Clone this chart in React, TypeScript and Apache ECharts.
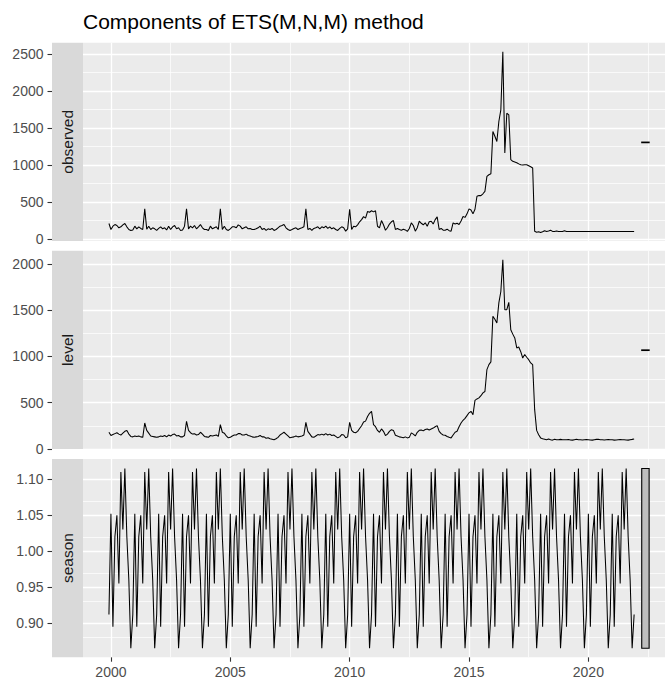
import React, { useEffect, useRef } from "react";
import * as echarts from "echarts";

// ---------- DATA ----------
// Monthly series, first value = Dec 1999, then Jan..Dec for 2000..2021
const startYear = 1999;
const startMonth = 12;
const frequency = 12;

const observed: number[] = [
  207,
  126, 171, 193, 180, 149, 162, 189, 207, 162, 126, 113, 120, // 2000
  171, 135, 162, 140, 125, 405, 130, 171, 126, 149, 135, 113, // 2001
  140, 162, 135, 149, 120, 171, 126, 162, 180, 135, 149, 113, // 2002
  120, 171, 405, 135, 171, 149, 180, 135, 162, 193, 149, 126, // 2003
  126, 113, 171, 135, 149, 162, 126, 405, 126, 171, 126, 113, // 2004
  135, 162, 162, 149, 189, 171, 135, 149, 162, 135, 140, 126, // 2005
  126, 135, 149, 171, 126, 140, 113, 135, 126, 140, 113, 126, // 2006
  149, 171, 180, 193, 149, 126, 113, 126, 140, 149, 126, 140, // 2007
  149, 162, 405, 126, 140, 113, 140, 149, 162, 135, 162, 149, // 2008
  171, 140, 162, 135, 149, 126, 113, 140, 162, 149, 104, 135, // 2009
  400, 126, 171, 162, 189, 230, 260, 300, 280, 370, 360, 380, // 2010
  365, 380, 170, 149, 247, 190, 116, 150, 200, 230, 247, 126, // 2011
  140, 125, 116, 130, 120, 100, 140, 216, 180, 103, 150, 238, // 2012
  210, 190, 216, 170, 230, 238, 200, 260, 297, 126, 140, 116, // 2013
  116, 130, 110, 103, 216, 200, 210, 194, 240, 301, 290, 338, // 2014
  405, 390, 338, 400, 576, 585, 585, 610, 643, 846, 868, 880, // 2015
  1454, 1390, 1319, 1589, 1747, 2535, 1162, 1702, 1680, 1072, 1049, 1040, // 2016
  1031, 1015, 1004, 1000, 1004, 1004, 990, 975, 960, 103, 89, 95, // 2017
  85, 95, 110, 100, 105, 115, 100, 100, 105, 100, 100, 100, // 2018
  110, 100, 100, 100, 100, 100, 100, 100, 100, 100, 100, 100, // 2019
  100, 100, 100, 100, 100, 100, 100, 100, 100, 100, 100, 100, // 2020
  100, 100, 100, 100, 100, 100, 100, 100, 100, 100, 100, 100, // 2021
];

const level: number[] = [
  180,
  145, 155, 165, 175, 160, 150, 170, 190, 200, 160, 135, 130, // 2000
  140, 135, 140, 130, 125, 280, 200, 170, 140, 135, 130, 125, // 2001
  130, 140, 135, 145, 130, 150, 140, 155, 160, 140, 145, 130, // 2002
  130, 145, 298, 200, 175, 160, 165, 150, 155, 180, 160, 135, // 2003
  130, 125, 145, 140, 145, 150, 135, 262, 180, 170, 140, 120, // 2004
  125, 140, 150, 150, 165, 165, 150, 150, 160, 145, 140, 130, // 2005
  125, 130, 135, 145, 130, 130, 115, 120, 110, 105, 100, 110, // 2006
  125, 150, 165, 180, 160, 140, 120, 125, 130, 140, 130, 135, // 2007
  140, 150, 287, 190, 160, 130, 125, 140, 155, 150, 160, 150, // 2008
  165, 150, 160, 145, 150, 135, 120, 130, 155, 150, 120, 130, // 2009
  287, 200, 180, 175, 190, 220, 250, 290, 300, 350, 385, 406, // 2010
  262, 240, 200, 180, 216, 190, 144, 160, 190, 208, 200, 147, // 2011
  140, 130, 125, 120, 130, 119, 125, 173, 160, 140, 180, 201, // 2012
  205, 195, 210, 216, 205, 215, 225, 240, 252, 190, 165, 150, // 2013
  147, 135, 125, 119, 150, 180, 190, 240, 280, 309, 330, 360, // 2014
  390, 406, 370, 525, 540, 551, 575, 605, 620, 857, 910, 940, // 2015
  1432, 1400, 1360, 1577, 1700, 2044, 1504, 1504, 1583, 1288, 1240, 1199, // 2016
  1091, 1100, 1050, 982, 1020, 990, 964, 929, 910, 424, 200, 154, // 2017
  119, 110, 105, 100, 108, 100, 95, 105, 100, 98, 103, 100, // 2018
  98, 100, 102, 97, 95, 100, 105, 100, 98, 96, 100, 102, // 2019
  100, 97, 95, 100, 103, 105, 100, 98, 96, 100, 102, 100, // 2020
  98, 95, 97, 100, 102, 100, 98, 96, 95, 100, 103, 108, // 2021
];

const season: number[] = [
  0.912,
  1.052, 0.895, 1.02, 1.05, 0.955, 1.11, 1.03, 1.115, 1.02, 0.96, 0.865, 0.912, // 2000
  1.052, 0.895, 1.02, 1.05, 0.955, 1.11, 1.03, 1.115, 1.02, 0.96, 0.865, 0.912, // 2001
  1.052, 0.895, 1.02, 1.05, 0.955, 1.11, 1.03, 1.115, 1.02, 0.96, 0.865, 0.912, // 2002
  1.052, 0.895, 1.02, 1.05, 0.955, 1.11, 1.03, 1.115, 1.02, 0.96, 0.865, 0.912, // 2003
  1.052, 0.895, 1.02, 1.05, 0.955, 1.11, 1.03, 1.115, 1.02, 0.96, 0.865, 0.912, // 2004
  1.052, 0.895, 1.02, 1.05, 0.955, 1.11, 1.03, 1.115, 1.02, 0.96, 0.865, 0.912, // 2005
  1.052, 0.895, 1.02, 1.05, 0.955, 1.11, 1.03, 1.115, 1.02, 0.96, 0.865, 0.912, // 2006
  1.052, 0.895, 1.02, 1.05, 0.955, 1.11, 1.03, 1.115, 1.02, 0.96, 0.865, 0.912, // 2007
  1.052, 0.895, 1.02, 1.05, 0.955, 1.11, 1.03, 1.115, 1.02, 0.96, 0.865, 0.912, // 2008
  1.052, 0.895, 1.02, 1.05, 0.955, 1.11, 1.03, 1.115, 1.02, 0.96, 0.865, 0.912, // 2009
  1.052, 0.895, 1.02, 1.05, 0.955, 1.11, 1.03, 1.115, 1.02, 0.96, 0.865, 0.912, // 2010
  1.052, 0.895, 1.02, 1.05, 0.955, 1.11, 1.03, 1.115, 1.02, 0.96, 0.865, 0.912, // 2011
  1.052, 0.895, 1.02, 1.05, 0.955, 1.11, 1.03, 1.115, 1.02, 0.96, 0.865, 0.912, // 2012
  1.052, 0.895, 1.02, 1.05, 0.955, 1.11, 1.03, 1.115, 1.02, 0.96, 0.865, 0.912, // 2013
  1.052, 0.895, 1.02, 1.05, 0.955, 1.11, 1.03, 1.115, 1.02, 0.96, 0.865, 0.912, // 2014
  1.052, 0.895, 1.02, 1.05, 0.955, 1.11, 1.03, 1.115, 1.02, 0.96, 0.865, 0.912, // 2015
  1.052, 0.895, 1.02, 1.05, 0.955, 1.11, 1.03, 1.115, 1.02, 0.96, 0.865, 0.912, // 2016
  1.052, 0.895, 1.02, 1.05, 0.955, 1.11, 1.03, 1.115, 1.02, 0.96, 0.865, 0.912, // 2017
  1.052, 0.895, 1.02, 1.05, 0.955, 1.11, 1.03, 1.115, 1.02, 0.96, 0.865, 0.912, // 2018
  1.052, 0.895, 1.02, 1.05, 0.955, 1.11, 1.03, 1.115, 1.02, 0.96, 0.865, 0.912, // 2019
  1.052, 0.895, 1.02, 1.05, 0.955, 1.11, 1.03, 1.115, 1.02, 0.96, 0.865, 0.912, // 2020
  1.052, 0.895, 1.02, 1.05, 0.955, 1.11, 1.03, 1.115, 1.02, 0.96, 0.865, 0.912, // 2021
];

const panelNames = ["observed", "level", "season"];
const titleText = "Components of ETS(M,N,M) method";

const xMajorTicks = [2000, 2005, 2010, 2015, 2020];
const xMinorTicks = [2002.5, 2007.5, 2012.5, 2017.5, 2022.5];
const xLimits = [1998.83, 2023.21];

const observedTicks = [0, 500, 1000, 1500, 2000, 2500];
const observedMinor = [250, 750, 1250, 1750, 2250];
const levelTicks = [0, 500, 1000, 1500, 2000];
const levelMinor = [250, 750, 1250, 1750];
const seasonTicks = [0.9, 0.95, 1.0, 1.05, 1.1];
const seasonMinor = [0.875, 0.925, 0.975, 1.025, 1.075, 1.125];

const observedLimits = [-30, 2657];
const levelLimits = [-2, 2140];
const seasonLimits = [0.8526, 1.1283];

const rangeBarX = 2022.39;

// ---------- LAYOUT / STYLE ----------
const FONT = "'Liberation Sans', Arial, Helvetica, sans-serif";
const panelLeft = 83;
const panelWidth = 582;
const panelTops = [42.7, 250.8, 458.9];
const panelHeight = 198.3;
const stripLeft = 52;
const stripWidth = 31;

export default function App() {
  const ref = useRef<HTMLDivElement>(null);

  useEffect(() => {
    if (!ref.current) return;
    const chart = echarts.init(ref.current, undefined, { renderer: "svg" });

    const times = observed.map(
      (_, i) => startYear + (startMonth - 1) / frequency + i / frequency
    );
    const seriesList = [observed, level, season];
    const majors = [observedTicks, levelTicks, seasonTicks];
    const minors = [observedMinor, levelMinor, seasonMinor];
    const limits = [observedLimits, levelLimits, seasonLimits];

    const sMin = Math.min(...season);
    const sMax = Math.max(...season);
    const barHeight = sMax - sMin;

    const grids = panelTops.map((top) => ({
      left: panelLeft,
      top,
      width: panelWidth,
      height: panelHeight,
      show: true,
      backgroundColor: "#EBEBEB",
      borderWidth: 0,
      containLabel: false,
      outerBoundsMode: "none",
    }));

    const xAxes = panelTops.map((_, k) => ({
      type: "value",
      gridIndex: k,
      min: xLimits[0],
      max: xLimits[1],
      axisLine: { show: false },
      splitLine: { show: false },
      minorSplitLine: { show: false },
      axisTick: {
        show: k === 2,
        customValues: xMajorTicks,
        length: 4.5,
        lineStyle: { color: "#333333", width: 1.1 },
      },
      axisLabel: {
        show: k === 2,
        customValues: xMajorTicks,
        color: "#4D4D4D",
        fontSize: 14,
        fontFamily: FONT,
        margin: 8,
        formatter: (v: number) => String(Math.round(v)),
      },
    }));

    const yAxes = panelTops.map((_, k) => ({
      type: "value",
      gridIndex: k,
      min: limits[k][0],
      max: limits[k][1],
      offset: panelLeft - stripLeft,
      axisLine: { show: false },
      splitLine: { show: false },
      axisTick: {
        show: true,
        customValues: majors[k],
        length: 4.5,
        lineStyle: { color: "#333333", width: 1.1 },
      },
      axisLabel: {
        show: true,
        customValues: majors[k],
        color: "#4D4D4D",
        fontSize: 14,
        fontFamily: FONT,
        margin: 8.5,
        formatter: (v: number) => (k === 2 ? v.toFixed(2) : String(Math.round(v))),
      },
    }));

    const lineSeries = seriesList.map((arr, k) => ({
      type: "line",
      xAxisIndex: k,
      yAxisIndex: k,
      data: arr.map((v, i) => [times[i], v]),
      showSymbol: false,
      symbol: "none",
      silent: true,
      z: 3,
      lineStyle: { color: "#000000", width: 1.05 },
      markLine: {
        silent: true,
        symbol: ["none", "none"],
        z: 1,
        animation: false,
        label: { show: false },
        emphasis: { disabled: true },
        lineStyle: { color: "#FFFFFF", type: "solid", width: 1.3 },
        data: [
          ...minors[k].map((v) => ({ yAxis: v, lineStyle: { color: "#FFFFFF", type: "solid", width: 0.7 } })),
          ...xMinorTicks.map((v) => ({ xAxis: v, lineStyle: { color: "#FFFFFF", type: "solid", width: 0.7 } })),
          ...majors[k].map((v) => ({ yAxis: v, lineStyle: { color: "#FFFFFF", type: "solid", width: 1.3 } })),
          ...xMajorTicks.map((v) => ({ xAxis: v, lineStyle: { color: "#FFFFFF", type: "solid", width: 1.3 } })),
        ],
      },
    }));

    const barSeries = seriesList.map((arr, k) => {
      const lo = Math.min(...arr);
      const hi = Math.max(...arr);
      const mid = (lo + hi) / 2;
      return {
        type: "custom",
        xAxisIndex: k,
        yAxisIndex: k,
        silent: true,
        z: 4,
        clip: false,
        data: [[rangeBarX, mid - barHeight / 2, mid + barHeight / 2]],
        renderItem: (_p: any, api: any) => {
          const x = api.value(0);
          const p1 = api.coord([x, api.value(2)]);
          const p2 = api.coord([x, api.value(1)]);
          const w = 7.4;
          return {
            type: "rect",
            shape: {
              x: p1[0] - w / 2,
              y: p1[1],
              width: w,
              height: Math.max(p2[1] - p1[1], 0.6),
            },
            style: { fill: "#BEBEBE", stroke: "#000000", lineWidth: 1.1 },
          };
        },
      };
    });

    const graphics: any[] = [
      {
        type: "text",
        x: panelLeft,
        y: 21,
        style: {
          text: titleText,
          fill: "#000000",
          fontSize: 21,
          fontFamily: FONT,
          align: "left",
          verticalAlign: "middle",
        },
      },
    ];
    panelTops.forEach((top, k) => {
      graphics.push({
        type: "rect",
        shape: { x: stripLeft, y: top, width: stripWidth, height: panelHeight },
        style: { fill: "#D9D9D9" },
        z: -1,
      });
      graphics.push({
        type: "text",
        x: stripLeft + stripWidth / 2,
        y: top + panelHeight / 2,
        rotation: Math.PI / 2,
        style: {
          text: panelNames[k],
          fill: "#1A1A1A",
          fontSize: 15.5,
          fontFamily: FONT,
          align: "center",
          verticalAlign: "middle",
        },
      });
    });

    chart.setOption({
      animation: false,
      backgroundColor: "#FFFFFF",
      grid: grids,
      xAxis: xAxes,
      yAxis: yAxes,
      series: [...lineSeries, ...barSeries],
      graphic: graphics,
    } as any);

    return () => chart.dispose();
  }, []);

  return (
    <div
      ref={ref}
      style={{ position: "absolute", left: 0, top: 0, width: 665, height: 684 }}
    />
  );
}
